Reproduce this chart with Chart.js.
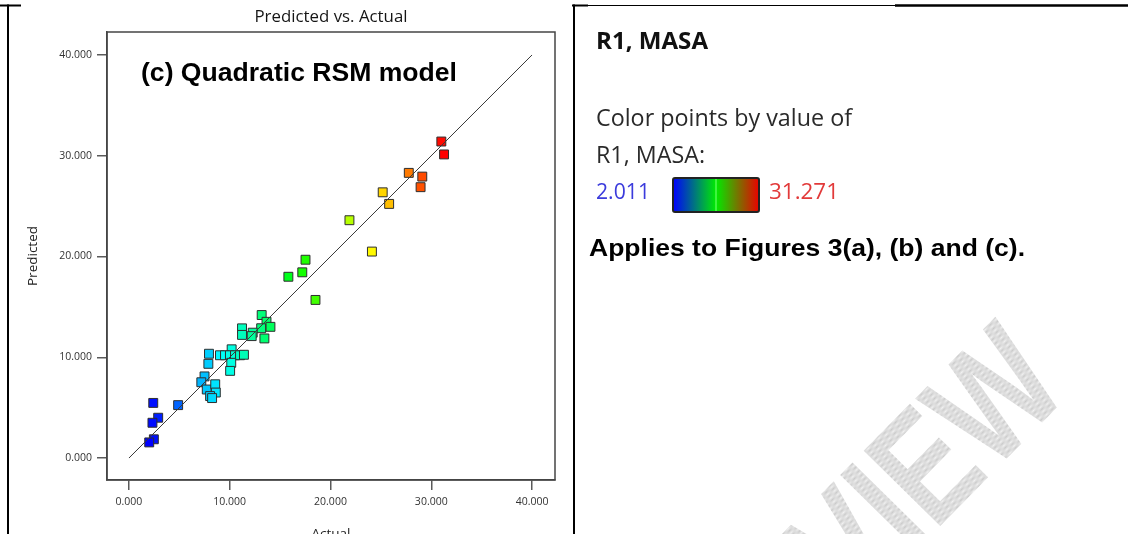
<!DOCTYPE html>
<html>
<head>
<meta charset="utf-8">
<title>Predicted vs. Actual</title>
<script src="https://cdn.jsdelivr.net/npm/chart.js@4.4.1/dist/chart.umd.min.js"></script>
<style>
  html, body { margin: 0; padding: 0; background: #ffffff; overflow: hidden; }
  #wrap { position: relative; width: 1128px; height: 548px; }
  canvas { display: block; }
</style>
</head>
<body>
<div id="wrap"><canvas id="chart" width="1128" height="548"></canvas></div>
<script>
// Observed response R1 (MASA) for each run
const actual = [
  31.00, 31.271, 29.11, 28.94, 27.77, 25.18, 25.82, 21.88, 24.11,
  17.52, 17.20, 15.82, 18.51,
  13.17, 13.65, 14.04, 13.12, 13.44, 12.28, 12.18, 11.22, 11.22,
  10.19, 9.03, 9.53, 10.02, 10.52, 11.02, 11.41, 10.15, 10.04, 7.94, 7.88,
  7.50, 7.18, 7.72, 8.56, 8.62, 8.05, 8.25,
  2.41, 4.88, 2.90, 2.33, 2.47, 2.011
];
// Model predictions for the same runs
const predicted = [
  31.41, 30.13, 27.93, 26.88, 28.30, 26.37, 25.22, 23.60, 20.49,
  19.68, 18.43, 17.99, 15.69,
  14.19, 13.52, 13.02, 12.88, 11.87, 12.44, 12.10, 12.87, 12.22,
  10.79, 10.20, 10.20, 10.20, 10.20, 10.20, 10.25, 9.45, 8.65, 10.35, 9.35,
  8.10, 7.52, 6.80, 7.32, 6.50, 6.15, 5.95,
  5.47, 5.25, 4.00, 3.50, 1.86, 1.55
];
// Reference line y = x
const parityX = [0, 40];
const parityY = [0, 40];
// Axis tick values (both axes)
const axisTicks = [0, 10, 20, 30, 40];
const axisMin = -2.18;
const axisMax = 42.28;
// Colour range of the response
const colorMin = 2.011;
const colorMax = 31.271;

// Rainbow colour: blue at the low end, red at the high end
function colorFor(v) {
  const t = Math.max(0, Math.min(1, (v - colorMin) / (colorMax - colorMin)));
  const hue = 240 * (1 - t);
  return `hsl(${hue.toFixed(1)}, 100%, 50%)`;
}

function drawText(ctx, str, x, y, font, color, align, fitWidth) {
  ctx.save();
  ctx.font = font;
  ctx.fillStyle = color;
  ctx.textBaseline = 'middle';
  ctx.textAlign = 'left';
  const w = ctx.measureText(str).width;
  const sx = fitWidth ? fitWidth / w : 1;
  const drawnW = w * sx;
  let left = x;
  if (align === 'center') left = x - drawnW / 2;
  if (align === 'right') left = x - drawnW;
  ctx.translate(left, y);
  ctx.scale(sx, 1);
  ctx.fillText(str, 0, 0);
  ctx.restore();
}

function drawWatermark(ctx) {
  const p = document.createElement('canvas');
  p.width = 2; p.height = 2;
  const pc = p.getContext('2d');
  pc.fillStyle = '#f2f2f2';
  pc.fillRect(0, 0, 2, 2);
  pc.fillStyle = '#c9c9c9';
  pc.fillRect(0, 0, 1, 1);
  pc.fillRect(1, 1, 1, 1);
  const pattern = ctx.createPattern(p, 'repeat');
  ctx.save();
  ctx.translate(1072, 392);
  ctx.rotate(-45.5 * Math.PI / 180);
  ctx.scale(0.78, 1);
  ctx.font = 'bold 156px "Liberation Sans", Arial, sans-serif';
  ctx.textAlign = 'right';
  ctx.textBaseline = 'alphabetic';
  ctx.fillStyle = pattern;
  ctx.fillText('PREVIEW', 0, 0);
  ctx.restore();
}

function drawTableLines(ctx) {
  ctx.save();
  ctx.strokeStyle = '#000';
  ctx.lineCap = 'butt';
  const seg = (x1, y1, x2, y2, w) => {
    ctx.lineWidth = w;
    ctx.beginPath(); ctx.moveTo(x1, y1); ctx.lineTo(x2, y2); ctx.stroke();
  };
  seg(0, 5.5, 21, 5.5, 2);
  seg(572, 5.5, 588, 5.5, 2);
  seg(588, 5.5, 895, 5.5, 1);
  seg(895, 5.5, 1128, 5.5, 2.5);
  seg(8, 4.5, 8, 548, 2);
  seg(574, 4.5, 574, 548, 2);
  ctx.restore();
}

function drawLegendPanel(ctx) {
  const reg = '"Open Sans", "Noto Sans", sans-serif';
  drawText(ctx, 'R1, MASA', 596, 42, `bold 23px ${reg}`, '#111', 'left', 112);
  drawText(ctx, 'Color points by value of', 596, 119, `23px ${reg}`, '#2a2a2a', 'left', 256);
  drawText(ctx, 'R1, MASA:', 596, 156, `23px ${reg}`, '#2a2a2a', 'left', 109);
  drawText(ctx, colorMin.toFixed(3), 596, 193, `22px ${reg}`, '#3b3bdc', 'left', 54);
  drawText(ctx, colorMax.toFixed(3), 769, 193, `22px ${reg}`, '#e23a3a', 'left', 70);

  // colour bar
  const bx = 673, by = 178, bw = 86, bh = 34;
  ctx.save();
  const g = ctx.createLinearGradient(bx, 0, bx + bw, 0);
  g.addColorStop(0, 'rgb(0,0,255)');
  g.addColorStop(0.5, 'rgb(0,235,0)');
  g.addColorStop(1, 'rgb(235,0,0)');
  ctx.fillStyle = g;
  ctx.beginPath();
  ctx.roundRect(bx, by, bw, bh, 2);
  ctx.fill();
  ctx.strokeStyle = '#7dff7d';
  ctx.lineWidth = 1;
  ctx.beginPath(); ctx.moveTo(bx + bw / 2, by + 1); ctx.lineTo(bx + bw / 2, by + bh - 1); ctx.stroke();
  ctx.strokeStyle = '#222';
  ctx.lineWidth = 2;
  ctx.beginPath();
  ctx.roundRect(bx, by, bw, bh, 2);
  ctx.stroke();
  ctx.restore();

  drawText(ctx, 'Applies to Figures 3(a), (b) and (c).', 589, 249,
    'bold 24px "Liberation Sans", Arial, sans-serif', '#000', 'left', 436);
}

const pagePlugin = {
  id: 'pageDecor',
  beforeDraw(chart) {
    const ctx = chart.ctx;
    ctx.save();
    ctx.fillStyle = '#fff';
    ctx.fillRect(0, 0, chart.width, chart.height);
    ctx.restore();
    drawWatermark(ctx);
  },
  afterDraw(chart) {
    const ctx = chart.ctx;
    const a = chart.chartArea;
    // frame around the plotting area
    ctx.save();
    ctx.strokeStyle = '#454545';
    ctx.lineWidth = 1.5;
    ctx.strokeRect(a.left, a.top, a.right - a.left, a.bottom - a.top);
    ctx.restore();

    drawText(ctx, 'Predicted vs. Actual', (a.left + a.right) / 2, 17,
      '16.5px "Open Sans", "Noto Sans", sans-serif', '#151515', 'center', 153);
    drawText(ctx, '(c) Quadratic RSM model', 141, 74,
      'bold 25px "Liberation Sans", Arial, sans-serif', '#000', 'left', 316);

    drawTableLines(ctx);
    drawLegendPanel(ctx);
  }
};

const tickFont = { family: '"Open Sans", "Noto Sans", sans-serif', size: 10.5 };
const titleFont = { family: '"Open Sans", "Noto Sans", sans-serif', size: 13.5 };

const points = actual.map((a, i) => ({ x: a, y: predicted[i] }));
const parity = parityX.map((x, i) => ({ x: x, y: parityY[i] }));

function axisOptions(isX) {
  return {
    type: 'linear',
    min: axisMin,
    max: axisMax,
    afterFit: (s) => { if (isX) s.height = 68; else s.width = 107; },
    afterBuildTicks: (s) => { s.ticks = axisTicks.map(v => ({ value: v })); },
    ticks: {
      callback: (v) => Number(v).toFixed(3),
      font: tickFont,
      color: '#333',
      padding: isX ? 6 : 5,
      maxRotation: 0,
      autoSkip: false
    },
    grid: {
      drawOnChartArea: false,
      drawTicks: true,
      tickLength: 10,
      color: '#5a5a5a',
      lineWidth: 1.5
    },
    border: { display: true, color: '#454545', width: 1.5 },
    title: {
      display: true,
      text: isX ? 'Actual' : 'Predicted',
      font: titleFont,
      color: '#222',
      padding: isX ? { top: 0, bottom: 6 } : { top: 25, bottom: 0 }
    }
  };
}

new Chart(document.getElementById('chart').getContext('2d'), {
  type: 'scatter',
  data: {
    datasets: [
      {
        type: 'line',
        data: parity,
        borderColor: '#3a3a3a',
        borderWidth: 1,
        pointRadius: 0,
        fill: false,
        order: 0
      },
      {
        data: points,
        pointStyle: 'rect',
        pointRadius: 6.3,
        pointHoverRadius: 6.3,
        backgroundColor: actual.map(colorFor),
        borderColor: '#2e2e2e',
        borderWidth: 1,
        order: 1
      }
    ]
  },
  options: {
    responsive: false,
    animation: false,
    devicePixelRatio: 1,
    layout: { padding: { top: 32, right: 573, bottom: 0, left: 0 } },
    plugins: {
      legend: { display: false },
      tooltip: { enabled: false },
      title: { display: false }
    },
    scales: {
      x: axisOptions(true),
      y: axisOptions(false)
    }
  },
  plugins: [pagePlugin]
});
</script>
</body>
</html>
